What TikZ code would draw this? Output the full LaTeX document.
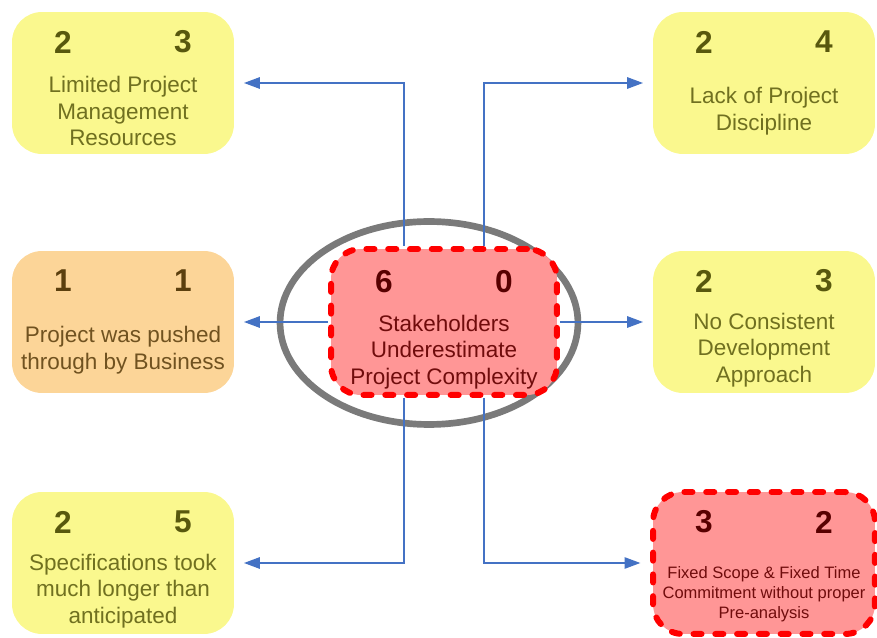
\documentclass[tikz,border=0pt]{standalone}
\usepackage{fontspec}
\setmainfont{Liberation Sans}
\usetikzlibrary{arrows.meta,positioning}

\definecolor{causeYellow}{RGB}{250,248,142}
\definecolor{causeOrange}{RGB}{252,213,152}
\definecolor{causeRed}{RGB}{255,150,150}
\definecolor{inkYellow}{RGB}{112,112,32}
\definecolor{numYellow}{RGB}{88,88,14}
\definecolor{inkOrange}{RGB}{112,82,32}
\definecolor{numOrange}{RGB}{92,64,14}
\definecolor{inkRed}{RGB}{112,12,12}
\definecolor{numRed}{RGB}{88,0,0}
\definecolor{ringGray}{RGB}{122,122,122}
\definecolor{linkBlue}{RGB}{68,114,196}

\tikzset{
  box/.style={rounded corners=0.6cm, minimum width=4.44cm, minimum height=2.84cm, inner sep=0pt},
  ybox/.style={box, fill=causeYellow},
  obox/.style={box, fill=causeOrange},
  rbox/.style={box, fill=causeRed, draw=red, line width=3.4pt, dash pattern=on 4.6pt off 7.8pt, line cap=round},
  num/.style={font=\fontsize{18}{20}\selectfont\bfseries},
  txt/.style={font=\fontsize{12.8}{15.2}\selectfont, align=center},
  link/.style={draw=linkBlue, line width=0.8pt, -{Triangle[length=9pt,width=6.5pt]}, shorten >=5.5pt},
}

\begin{document}
\begin{tikzpicture}[x=0.02cm,y=-0.02cm]
    \useasboundingbox (0,0) rectangle (877,638);

    % Root cause
    \draw[ringGray, line width=3.8pt] (429,323) ellipse [x radius=2.98cm, y radius=2.03cm];
    \node[rbox, minimum width=4.52cm, minimum height=2.92cm] (root) at (444,322) {};
    \node[num, text=numRed] (rootL) at ([shift={(-60,-40)}]root.center) {6};
    \node[num, text=numRed] (rootR) at ([shift={(60,-40)}]root.center) {0};
    \node[txt, text=inkRed] (rootT) at ([shift={(0,30)}]root.center) {Stakeholders\\Underestimate\\Project Complexity};

    % Top row
    \node[ybox] (limited) at (123,83) {};
    \node[num, text=numYellow] (limitedL) at ([shift={(-60,-41)}]limited.center) {2};
    \node[num, text=numYellow] (limitedR) at ([shift={(60,-41)}]limited.center) {3};
    \node[txt, text=inkYellow] (limitedT) at ([shift={(0,28)}]limited.center) {Limited Project\\Management\\Resources};

    \node[ybox] (discipline) at (764,83) {};
    \node[num, text=numYellow] (disciplineL) at ([shift={(-60,-41)}]discipline.center) {2};
    \node[num, text=numYellow] (disciplineR) at ([shift={(60,-41)}]discipline.center) {4};
    \node[txt, text=inkYellow] (disciplineT) at ([shift={(0,28)}]discipline.center) {Lack of Project\\Discipline};

    % Middle row
    \node[obox] (pushed) at (123,322) {};
    \node[num, text=numOrange] (pushedL) at ([shift={(-60,-41)}]pushed.center) {1};
    \node[num, text=numOrange] (pushedR) at ([shift={(60,-41)}]pushed.center) {1};
    \node[txt, text=inkOrange] (pushedT) at ([shift={(0,28)}]pushed.center) {Project was pushed\\through by Business};

    \node[ybox] (approach) at (764,322) {};
    \node[num, text=numYellow] (approachL) at ([shift={(-60,-41)}]approach.center) {2};
    \node[num, text=numYellow] (approachR) at ([shift={(60,-41)}]approach.center) {3};
    \node[txt, text=inkYellow] (approachT) at ([shift={(0,28)}]approach.center) {No Consistent\\Development\\Approach};

    % Bottom row
    \node[ybox] (specs) at (123,563) {};
    \node[num, text=numYellow] (specsL) at ([shift={(-60,-41)}]specs.center) {2};
    \node[num, text=numYellow] (specsR) at ([shift={(60,-41)}]specs.center) {5};
    \node[txt, text=inkYellow] (specsT) at ([shift={(0,28)}]specs.center) {Specifications took\\much longer than\\anticipated};

    \node[rbox] (fixed) at (764,563) {};
    \node[num, text=numRed] (fixedL) at ([shift={(-60,-41)}]fixed.center) {3};
    \node[num, text=numRed] (fixedR) at ([shift={(60,-41)}]fixed.center) {2};
    \node[txt, text=inkRed, font=\fontsize{9.4}{11.3}\selectfont] (fixedT) at ([shift={(0,31)}]fixed.center) {Fixed Scope \& Fixed Time\\Commitment without proper\\Pre-analysis};

    % Links
    \draw[link] ([xshift=-0.8cm]root.north) |- (limited.east);
    \draw[link] ([xshift=0.8cm]root.north) |- (discipline.west);
    \draw[link] (root.west) -- (pushed.east);
    \draw[link] (root.east) -- (approach.west);
    \draw[link] ([xshift=-0.8cm]root.south) |- (specs.east);
    \draw[link] ([xshift=0.8cm]root.south) |- (fixed.west);

\end{tikzpicture}
\end{document}
